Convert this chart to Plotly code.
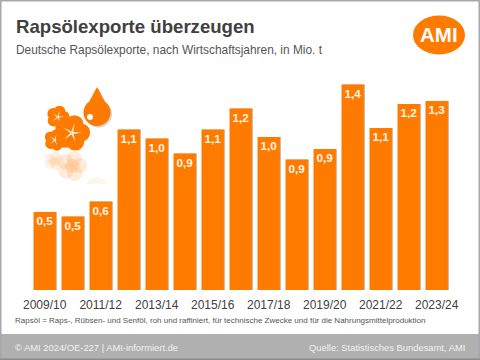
import math
import plotly.graph_objects as go

seasons = ["2009/10","2010/11","2011/12","2012/13","2013/14","2014/15","2015/16","2016/17",
           "2017/18","2018/19","2019/20","2020/21","2021/22","2022/23","2023/24"]
exports = [0.52,0.49,0.59,1.07,1.01,0.91,1.07,1.21,1.02,0.87,0.94,1.37,1.08,1.24,1.26]
tick_labels = seasons[::2]

W, H = 480, 360
ORANGE = "#FF7B00"
FONT = "Liberation Sans"

def px(x): return x / W
def py(y): return 1 - y / H

def rect(x0, y0, x1, y1, color, layer="below"):
    return dict(type="rect", xref="paper", yref="paper", x0=px(x0), x1=px(x1), y0=py(y0), y1=py(y1),
                fillcolor=color, line_width=0, layer=layer)

def circle(cx, cy, rx, ry, color, opacity=1.0):
    return dict(type="circle", xref="paper", yref="paper", x0=px(cx-rx), x1=px(cx+rx), y0=py(cy+ry), y1=py(cy-ry),
                fillcolor=color, line_width=0, opacity=opacity, layer="above")

def path(points, color, opacity=1.0):
    s = "M " + " L ".join(f"{px(x):.5f},{py(y):.5f}" for x, y in points) + " Z"
    return dict(type="path", xref="paper", yref="paper", path=s, fillcolor=color, line_width=0,
                opacity=opacity, layer="above")

def flower(cx, cy, r, star=True, opacity=1.0, color=ORANGE):
    out = []
    for i in range(5):
        a = math.radians(-90 + 72 * i + 15)
        out.append(circle(cx + r*0.55*math.cos(a), cy + r*0.55*math.sin(a), r*0.55, r*0.55, color, opacity))
    out.append(circle(cx, cy, r*0.5, r*0.5, color, opacity))
    if star:
        pts = []
        for i in range(10):
            a = math.radians(-90 + 36 * i + 15)
            q = r*0.62 if i % 2 == 0 else r*0.1
            pts.append((cx + q*math.cos(a), cy + q*math.sin(a)))
        out.append(path(pts, "#FFE9D6", opacity))
    return out

def drop(cx, top, r, color, opacity=1.0):
    pts = [(cx, top)]
    for d in range(-55, 236, 10):
        a = math.radians(d)
        pts.append((cx + r*math.cos(a), top + 25.5 + r*math.sin(a)))
    return path(pts, color, opacity)

shapes = [
    rect(0, 334, 480, 360, "#B0B0B0"),
    rect(0, 0, 480, 1.5, "#A8A8A8", "above"),
    rect(0, 0, 1.5, 360, "#A8A8A8", "above"),
    rect(478.5, 0, 480, 360, "#A8A8A8", "above"),
    rect(0, 358.5, 480, 360, "#8C8C8C", "above"),
    circle(439, 35, 26, 19.5, ORANGE),
]
shapes.append(drop(98.5, 88.5, 13.5, "#B0A8A0", 0.5))
shapes += flower(72, 166, 14, star=False, opacity=0.14)
shapes += flower(54, 161, 9, star=False, opacity=0.10)
shapes.append(path([(86, 184), (90, 179), (97, 177), (104, 179), (108, 184)], ORANGE, 0.08))
shapes += flower(58, 117, 10.5)
shapes += flower(55, 140, 10)
shapes += flower(72, 133, 16.5)
shapes.append(drop(97, 87, 13.5, ORANGE))
shapes.append(circle(90, 117, 3, 3, "#FFFFFF"))

fig = go.Figure()
fig.add_bar(x=seasons, y=exports, width=0.8, offset=-0.36, marker_color="#CDBBA8", marker_line_width=0,
            hoverinfo="skip", showlegend=False)
fig.add_bar(x=seasons, y=exports, width=0.8, offset=-0.4, marker_color=ORANGE, marker_line_width=0,
            texttemplate="%{y:.1f}", textposition="inside", insidetextanchor="end", textangle=0,
            textfont=dict(family=FONT, size=12.5, color="#FFF6EA", weight="bold"),
            showlegend=False, cliponaxis=False, hoverinfo="skip")

def note(text, x, y, size, color, anchor="left", bold=False):
    fig.add_annotation(text=f"<b>{text}</b>" if bold else text, xref="paper", yref="paper", x=px(x), y=py(y),
                       xanchor=anchor, yanchor="middle", showarrow=False,
                       font=dict(family=FONT, size=size, color=color))

note("Rapsölexporte überzeugen", 13.5, 27, 18.6, "#404040", bold=True)
note("Deutsche Rapsölexporte, nach Wirtschaftsjahren, in Mio. t", 13.5, 50, 11.9, "#555555")
note("Rapsöl = Raps-, Rübsen- und Senföl, roh und raffiniert, für technische Zwecke und für die Nahrungsmittelproduktion",
     12.5, 320.5, 8, "#555555")
note("© AMI 2024/OE-227 | AMI-informiert.de", 13, 347.5, 9.4, "#F2F2F2")
note("Quelle: Statistisches Bundesamt, AMI", 467, 347.5, 9.4, "#F2F2F2", anchor="right")
note("AMI", 439, 35, 20.5, "#FFFFFF", anchor="center", bold=True)

fig.update_layout(
    width=W, height=H, autosize=False, margin=dict(l=0, r=0, t=0, b=0, autoexpand=False),
    paper_bgcolor="#FFFFFF", plot_bgcolor="rgba(0,0,0,0)", barmode="overlay", shapes=shapes,
    font=dict(family=FONT),
    xaxis=dict(domain=[px(30.7), px(450.7)], type="category", categoryorder="array", categoryarray=seasons,
               tickmode="array", tickvals=tick_labels, ticktext=tick_labels, tickangle=0,
               showgrid=False, zeroline=False, showline=False, ticks="outside", ticklen=4,
               tickcolor="rgba(0,0,0,0)", tickfont=dict(family=FONT, size=12, color="#404040")),
    yaxis=dict(domain=[py(290), py(0)], range=[0, 290/150], showgrid=False, zeroline=False, showline=False,
               showticklabels=False, ticks=""),
    separators=",.",
)
fig.write_html("out.html", config={"displayModeBar": False},
               post_script="document.body.style.margin='0';document.documentElement.style.overflow='hidden';")
